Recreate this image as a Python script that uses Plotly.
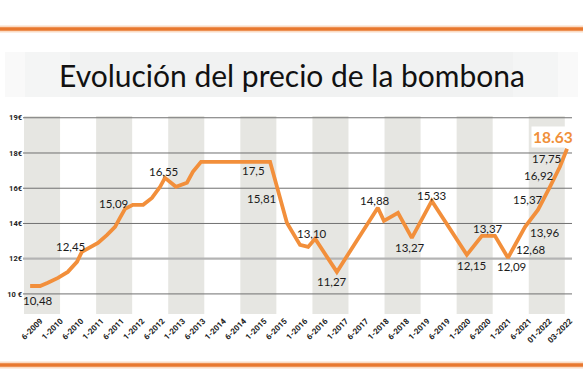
import plotly.graph_objects as go

# ---------------- data ----------------
period_labels = ["6-2009", "1-2010", "6-2010", "1-2011", "6-2011", "1-2012", "6-2012",
                 "1-2013", "6-2013", "1-2014", "6-2014", "1-2015", "6-2015", "1-2016",
                 "6-2016", "1-2017", "6-2017", "1-2018", "6-2018", "1-2019", "6-2019",
                 "1-2020", "6-2020", "1-2021", "6-2021", "01-2022", "03-2022"]

# position along the period axis (0 = first label) and price in euros
period = [-0.50, -0.01, 0.37, 0.87, 1.35, 1.80, 2.04, 2.35, 2.83, 3.28, 3.67, 3.91, 4.16,
          4.54, 5.05, 5.48, 5.88, 6.12, 6.66, 7.20, 7.49, 7.89, 11.28, 12.11, 12.75, 13.15,
          13.49, 14.56, 16.57, 16.87, 17.56, 18.24, 19.22, 20.94, 21.68, 22.32, 22.96, 23.80,
          24.43, 25.02, 25.51, 25.86]
price = [10.45, 10.45, 10.63, 10.91, 11.25, 11.82, 12.39, 12.61, 12.90, 13.35, 13.81, 14.32,
         14.83, 15.06, 15.06, 15.45, 16.08, 16.59, 16.08, 16.31, 16.93, 17.50, 17.50, 14.03,
         12.78, 12.67, 13.13, 11.25, 14.89, 14.15, 14.60, 13.18, 15.28, 12.22, 13.30, 13.30,
         12.05, 13.81, 14.77, 16.08, 17.22, 18.24]

label_text = ["10,48", "12,45", "15,09", "16,55", "17,5", "15,81", "13,10", "11,27", "14,88",
              "13,27", "15,33", "12,15", "13,37", "12,09", "12,68", "13,96", "15,37", "16,92",
              "17,75"]
label_value = [10.48, 12.45, 15.09, 16.55, 17.5, 15.81, 13.10, 11.27, 14.88, 13.27, 15.33,
               12.15, 13.37, 12.09, 12.68, 13.96, 15.37, 16.92, 17.75]
label_period = [-0.09, 1.46, 3.57, 6.03, 10.47, 10.88, 13.34, 14.32, 16.43, 18.15, 19.22,
                21.15, 21.98, 23.13, 24.09, 24.76, 23.92, 24.48, 24.83]

last_text = "18.63"
last_value = 18.63

y_tick_vals = [10, 12, 14, 16, 18, 20]
y_tick_text = ["10 €", "12€", "14€", "16€", "18€", "19€"]

title_text = "Evolución del precio de la bombona"

# ---------------- styles ----------------
ORANGE = "#F28F3B"
RULE = "#E8782F"
label_dy = [-15, 4, 1, 7, -9, -7, 6, -10, 7, -11, 5, -9, 6, -9, -3, -8, 0, -3, -1]
last_dy = 5
last_dx = 8

W, H = 583, 389
PL, PR, PT, PB = 23, 576, 116, 314          # plot area in pixels
L, R, T, B = PL, W - PR, PT, H - PB
plot_w = PR - PL
plot_h = PB - PT


def py(px):
    """pixel row -> paper y"""
    return (PB - px) / plot_h


def pxx(px):
    """pixel column -> paper x"""
    return (px - PL) / plot_w


fig = go.Figure()

fig.add_trace(go.Scatter(
    x=period, y=price, mode="lines",
    line=dict(color=ORANGE, width=3.8),
    hoverinfo="skip", showlegend=False,
))

shapes = []
# title rules
for yc in (29, 365):
    shapes.append(dict(type="rect", xref="paper", yref="paper", x0=pxx(0), x1=pxx(W),
                       y0=py(yc + 3.5), y1=py(yc - 3.5), fillcolor="#FADBC4", line_width=0,
                       layer="below"))
    shapes.append(dict(type="line", xref="paper", yref="paper", x0=pxx(0), x1=pxx(W),
                       y0=py(yc), y1=py(yc), line=dict(color=RULE, width=3.5)))
# title band (soft grey)
for (a, b, c) in [(5, 578, "#F9F9F9"), (25, 558, "#F4F5F5"), (70, 513, "#F1F2F2")]:
    shapes.append(dict(type="rect", xref="paper", yref="paper", x0=pxx(a), x1=pxx(b),
                       y0=py(97), y1=py(52), fillcolor=c, line_width=0, layer="below"))

# alternating grey columns
band_start, band_w, band_step = -0.80, 1.77, 3.54
for k in range(8):
    x0 = band_start + k * band_step
    shapes.append(dict(type="rect", xref="x", yref="paper", x0=x0, x1=x0 + band_w,
                       y0=0, y1=1, fillcolor="#E6E6E2", line_width=0, layer="below"))

# horizontal grid lines
for v in y_tick_vals:
    if v == 12:
        ln = dict(color="#B4B4B4", width=2.2)
    else:
        ln = dict(color="#707070", width=1)
    shapes.append(dict(type="line", xref="paper", yref="y", x0=0, x1=pxx(572),
                       y0=v, y1=v, line=ln, layer="below"))

annotations = []
annotations.append(dict(text=title_text, xref="paper", yref="paper", x=pxx(292), y=py(75),
                        showarrow=False, xanchor="center", yanchor="middle",
                        font=dict(family="Lato", size=30, color="#111111")))
for t, v, p, dy in zip(label_text, label_value, label_period, label_dy):
    annotations.append(dict(text=t, x=p, y=v, xref="x", yref="y", showarrow=False,
                            yshift=dy, font=dict(family="Lato", size=11.5, color="#1A1A1A")))
# headline value, right-aligned against the end of the line
annotations.append(dict(text="<b>" + last_text + "</b>", x=period[-1], y=last_value,
                        xref="x", yref="y", showarrow=False, xanchor="right",
                        xshift=last_dx, yshift=last_dy,
                        bgcolor="white", borderpad=1,
                        font=dict(family="Lato", size=15.5, color="#F0903A")))

tick_font = dict(family="Liberation Sans Narrow, Roboto, sans-serif",
                 size=8, color="#222222", weight="bold")
ytick_font = dict(tick_font, size=7.5)

fig.update_layout(
    width=W, height=H,
    margin=dict(l=L, r=R, t=T, b=B),
    paper_bgcolor="white", plot_bgcolor="white",
    shapes=shapes, annotations=annotations,
    showlegend=False,
    xaxis=dict(range=[-0.85, 26.3], tickmode="array", tickvals=list(range(len(period_labels))),
               ticktext=period_labels, tickangle=-45, showgrid=False, zeroline=False,
               showline=False, ticks="", tickfont=tick_font, automargin=False),
    yaxis=dict(range=[8.86, 20.1], tickmode="array", tickvals=y_tick_vals, ticktext=y_tick_text,
               showgrid=False, zeroline=False, showline=False, ticks="", tickfont=ytick_font,
               automargin=False),
)

# the page has no margin, so the 583x389 figure fills the window exactly
fig.write_html("out.html", config={"displayModeBar": False},
               post_script="document.body.style.margin='0';")
